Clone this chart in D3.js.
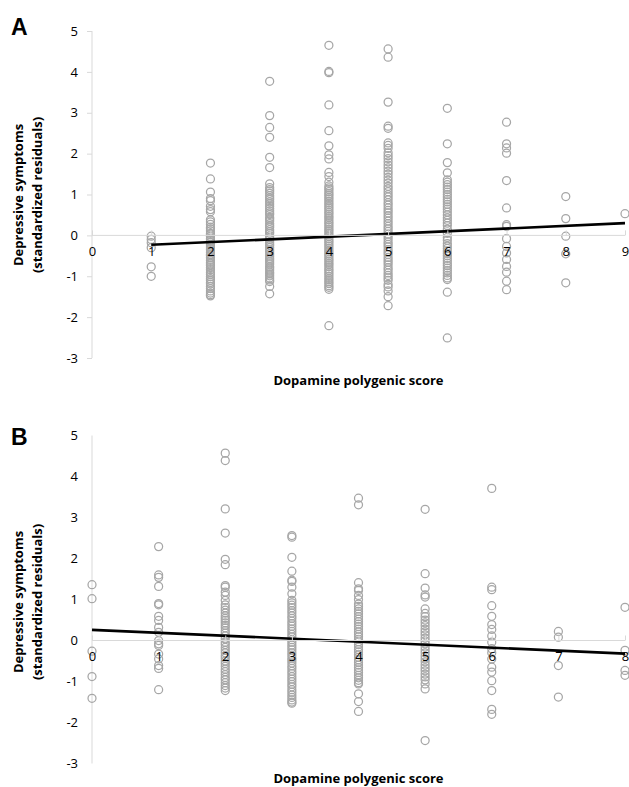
<!DOCTYPE html>
<html>
<head>
<meta charset="utf-8">
<script src="https://cdn.jsdelivr.net/npm/d3@7"></script>
<style>
    body { margin: 0; background: #fff; }
    svg { display: block; }
</style>
</head>
<body>
<div id="chart"></div>
<script>
// panel A: score 1..9
const scoresA = [1, 2, 3, 4, 5, 6, 7, 8, 9];
const residualsA = [
    [-0.02, -0.1, -0.18, -0.3, -0.77, -1.0],
    [1.77, 1.38, 1.06, 0.9, 0.85, 0.71, 0.63, 0.58, 0.38, 0.33, 0.27, 0.2, 0.16, 0.11, 0.05, 0.02, -0.03, -0.08, -0.12, -0.17, -0.22, -0.26, -0.31, -0.35, -0.41, -0.46, -0.5, -0.55, -0.61, -0.66, -0.7, -0.74, -0.79, -0.84, -0.9, -0.95, -1.01, -1.06, -1.1, -1.15, -1.19, -1.25, -1.3, -1.36, -1.41, -1.45, -1.48],
    [3.77, 2.93, 2.64, 2.4, 1.91, 1.66, 1.26, 1.17, 1.12, 1.08, 1.03, 0.97, 0.92, 0.88, 0.82, 0.77, 0.71, 0.66, 0.6, 0.55, 0.51, 0.44, 0.4, 0.35, 0.29, 0.24, 0.2, 0.14, 0.09, 0.05, -0.01, -0.06, -0.1, -0.16, -0.21, -0.25, -0.3, -0.36, -0.4, -0.45, -0.51, -0.56, -0.6, -0.65, -0.7, -0.76, -0.8, -0.85, -0.9, -0.94, -0.99, -1.04, -1.09, -1.13, -1.25, -1.43],
    [4.65, 4.01, 3.98, 3.19, 2.56, 2.19, 1.97, 1.87, 1.54, 1.44, 1.3, 1.21, 1.16, 1.12, 1.07, 1.02, 0.98, 0.93, 0.89, 0.84, 0.79, 0.75, 0.7, 0.66, 0.61, 0.56, 0.52, 0.47, 0.43, 0.38, 0.33, 0.29, 0.24, 0.2, 0.15, 0.11, 0.06, 0.01, -0.03, -0.08, -0.13, -0.17, -0.22, -0.26, -0.31, -0.36, -0.4, -0.45, -0.49, -0.54, -0.59, -0.63, -0.68, -0.72, -0.77, -0.82, -0.86, -0.91, -0.95, -1.0, -1.05, -1.09, -1.14, -1.18, -1.23, -1.27, -1.32, -2.21],
    [4.56, 4.36, 3.26, 2.67, 2.62, 2.26, 2.2, 2.13, 2.02, 1.95, 1.88, 1.8, 1.72, 1.65, 1.57, 1.5, 1.42, 1.35, 1.28, 1.2, 1.14, 1.07, 1.0, 0.94, 0.87, 0.8, 0.74, 0.67, 0.61, 0.55, 0.48, 0.42, 0.35, 0.29, 0.22, 0.16, 0.1, 0.03, -0.03, -0.09, -0.16, -0.22, -0.28, -0.35, -0.41, -0.47, -0.54, -0.6, -0.66, -0.72, -0.79, -0.85, -0.92, -0.98, -1.04, -1.1, -1.2, -1.26, -1.36, -1.5, -1.72],
    [3.11, 2.24, 1.78, 1.53, 1.36, 1.3, 1.24, 1.18, 1.12, 1.06, 1.0, 0.94, 0.88, 0.82, 0.76, 0.7, 0.64, 0.57, 0.5, 0.43, 0.37, 0.3, 0.24, 0.15, 0.05, -0.05, -0.12, -0.2, -0.26, -0.32, -0.38, -0.44, -0.5, -0.56, -0.62, -0.68, -0.74, -0.8, -0.86, -0.92, -0.98, -1.04, -1.08, -1.39, -2.51],
    [2.77, 2.24, 2.14, 2.01, 1.34, 0.67, 0.26, 0.22, -0.08, -0.27, -0.43, -0.59, -0.76, -0.9, -1.12, -1.33],
    [0.95, 0.41, -0.02, -0.45, -1.16],
    [0.53]
];
const trendA = [[1, -0.23], [9, 0.30]];

// panel B: score 0..8
const scoresB = [0, 1, 2, 3, 4, 5, 6, 7, 8];
const residualsB = [
    [1.36, 1.02, -0.26, -0.88, -1.41],
    [2.29, 1.6, 1.54, 1.32, 0.9, 0.87, 0.59, 0.49, 0.32, 0.2, 0.0, -0.08, -0.12, -0.33, -0.45, -0.61, -0.68, -1.2],
    [4.57, 4.39, 3.21, 2.62, 1.98, 1.85, 1.34, 1.3, 1.18, 1.1, 0.98, 0.87, 0.8, 0.74, 0.67, 0.6, 0.54, 0.49, 0.43, 0.37, 0.31, 0.24, 0.18, 0.11, 0.04, -0.04, -0.1, -0.17, -0.24, -0.3, -0.37, -0.43, -0.5, -0.56, -0.63, -0.7, -0.76, -0.83, -0.9, -0.96, -1.03, -1.1, -1.16, -1.22],
    [2.56, 2.52, 2.03, 1.69, 1.47, 1.44, 1.3, 1.14, 0.98, 0.92, 0.86, 0.8, 0.73, 0.67, 0.6, 0.54, 0.47, 0.41, 0.35, 0.28, 0.22, 0.15, 0.09, 0.02, -0.04, -0.11, -0.17, -0.23, -0.3, -0.36, -0.43, -0.49, -0.55, -0.62, -0.68, -0.75, -0.81, -0.88, -0.94, -1.0, -1.07, -1.13, -1.2, -1.26, -1.33, -1.39, -1.45, -1.5, -1.53],
    [3.47, 3.31, 1.41, 1.26, 1.22, 1.1, 1.0, 0.89, 0.83, 0.77, 0.71, 0.65, 0.58, 0.52, 0.46, 0.4, 0.34, 0.28, 0.21, 0.15, 0.09, 0.03, -0.03, -0.1, -0.16, -0.22, -0.28, -0.35, -0.41, -0.47, -0.53, -0.6, -0.66, -0.72, -0.78, -0.85, -0.91, -0.97, -1.03, -1.06, -1.3, -1.49, -1.73],
    [3.2, 1.63, 1.28, 1.11, 1.06, 0.77, 0.66, 0.58, 0.5, 0.43, 0.36, 0.28, 0.21, 0.14, 0.06, -0.01, -0.08, -0.16, -0.23, -0.3, -0.38, -0.45, -0.52, -0.6, -0.67, -0.74, -0.82, -0.89, -0.96, -1.06, -1.18, -2.44],
    [3.71, 1.3, 1.24, 0.85, 0.59, 0.39, 0.27, 0.11, -0.04, -0.2, -0.3, -0.45, -0.65, -0.77, -0.98, -1.22, -1.68, -1.8],
    [0.22, 0.08, -0.61, -1.38],
    [0.81, -0.24, -0.73, -0.85]
];
const trendB = [[0, 0.26], [8, -0.32]];

const yTicks = [-3, -2, -1, 0, 1, 2, 3, 4, 5];
const xTitle = 'Dopamine polygenic score';
const yTitle = ['Depressive symptoms', '(standardized residuals)'];

const W = 629, H = 787;
const font = '"Open Sans", "Liberation Sans", sans-serif';
const axisColor = '#d9d9d9';
const dotColor = '#a6a6a6';

const svg = d3.select('#chart')
    .append('svg')
    .attr('width', W)
    .attr('height', H)
    .style('font-family', font);

function panel (opt) {
    const x = d3.scaleLinear().domain([0, opt.xMax]).range([92, 625]);
    const y = d3.scaleLinear().domain([-3, 5]).range([opt.bottom, opt.top]);
    const g = svg.append('g');

    // y axis (plain hyphen minus like the original)
    const yAxis = g.append('g')
        .attr('transform', `translate(${x(0)},0)`)
        .call(d3.axisLeft(y).tickValues(yTicks).tickSize(opt.yTick).tickPadding(opt.yTick ? 9 : 14).tickFormat(d => String(d)));
    yAxis.select('.domain').attr('stroke', axisColor).attr('d', `M0,${y(-3)}V${y(5)}`);
    yAxis.selectAll('.tick line').attr('stroke', axisColor);
    yAxis.selectAll('.tick text')
        .attr('fill', '#000')
        .style('font-size', '13px')
        .style('font-family', font);

    // x axis on y = 0
    const xAxis = g.append('g')
        .attr('transform', `translate(0,${y(0)})`)
        .call(d3.axisBottom(x).ticks(opt.xMax).tickSize(-5).tickPadding(9).tickFormat(d => String(d)));
    xAxis.select('.domain').attr('stroke', axisColor).attr('d', `M${x(0)},0H${x(opt.xMax)}`);
    xAxis.selectAll('.tick line').attr('stroke', axisColor);

    // points
    const pts = [];
    opt.scores.forEach((s, i) => opt.values[i].forEach(v => pts.push([s, v])));
    g.append('g')
        .selectAll('circle')
        .data(pts)
        .join('circle')
        .attr('cx', d => x(d[0]))
        .attr('cy', d => y(d[1]))
        .attr('r', 4)
        .attr('fill', 'none')
        .attr('stroke', dotColor)
        .attr('stroke-width', 1.25);

    // regression line
    g.append('path')
        .datum(opt.trend)
        .attr('d', d3.line().x(d => x(d[0])).y(d => y(d[1])))
        .attr('fill', 'none')
        .attr('stroke', '#000')
        .attr('stroke-width', 2.6);

    // x tick labels sit on top of the points
    xAxis.raise();
    xAxis.selectAll('.tick text')
        .attr('fill', '#000')
        .attr('dy', '0.9em')
        .style('font-size', '13px')
        .style('font-family', font);

    // titles
    const yt = g.append('text')
        .attr('transform', `translate(0,${opt.yTitleY}) rotate(-90)`)
        .attr('text-anchor', 'middle')
        .style('font-size', '13px')
        .style('font-weight', 'bold')
        .attr('fill', '#000');
    yt.append('tspan').attr('x', 0).attr('y', 23).text(yTitle[0]);
    yt.append('tspan').attr('x', 0).attr('y', 42).text(yTitle[1]);

    g.append('text')
        .attr('x', (x(0) + x(opt.xMax)) / 2)
        .attr('y', opt.xTitleY)
        .attr('text-anchor', 'middle')
        .style('font-size', '13px')
        .style('font-weight', 'bold')
        .attr('fill', '#000')
        .text(xTitle);

    g.append('text')
        .attr('x', 11)
        .attr('y', opt.letterY)
        .style('font-family', '"Liberation Sans", Arial, sans-serif')
        .style('font-size', '23px')
        .style('font-weight', 'bold')
        .attr('fill', '#000')
        .text(opt.letter);
}

panel({
    letter: 'A', letterY: 35,
    scores: scoresA, values: residualsA, trend: trendA,
    xMax: 9, top: 31, bottom: 358, yTick: 5,
    yTitleY: 195, xTitleY: 385
});

panel({
    letter: 'B', letterY: 445,
    scores: scoresB, values: residualsB, trend: trendB,
    xMax: 8, top: 435.5, bottom: 763.5, yTick: 0,
    yTitleY: 602, xTitleY: 783
});
</script>
</body>
</html>
